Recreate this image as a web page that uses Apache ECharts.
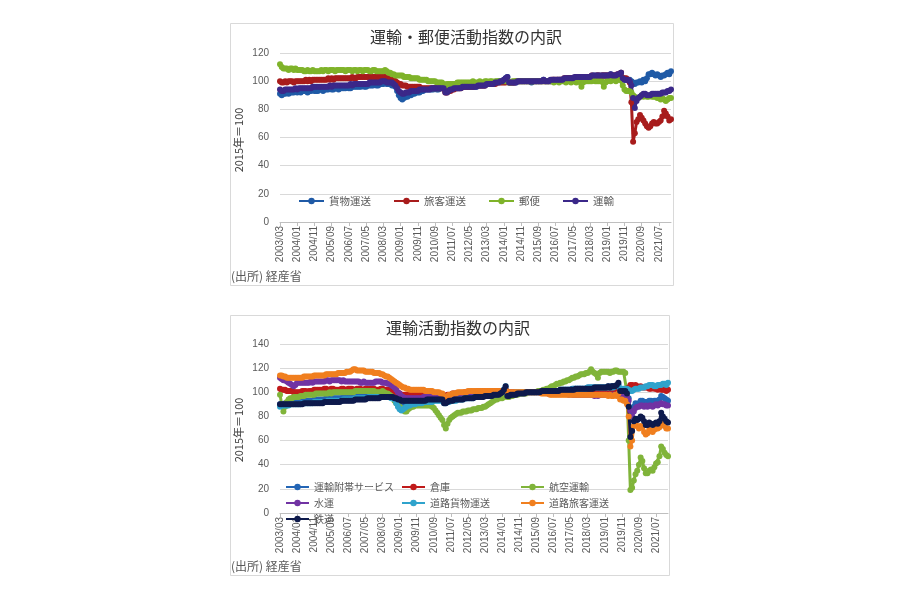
<!DOCTYPE html>
<html><head><meta charset="utf-8">
<script src="https://cdn.jsdelivr.net/npm/echarts@6/dist/echarts.min.js"></script>
<style>html,body{margin:0;padding:0;background:#fff}#c{width:900px;height:600px}</style>
</head><body><div id="c"></div><script>
// Months 2003/03 .. 2022/02
const categories = [];
for (let y = 2003, m = 3; y < 2022 || (y === 2022 && m <= 2); ) {
  categories.push(y + '/' + String(m).padStart(2, '0'));
  m++; if (m > 12) { m = 1; y++; }
}
const yTicksTop = [0, 20, 40, 60, 80, 100, 120];
const yTicksBottom = [0, 20, 40, 60, 80, 100, 120, 140];

// ---- Top chart: 運輸・郵便活動指数の内訳 ----
const freight = [
 91,90,91,91,92,91,92,92,92,93,
 92,93,92,93,93,93,92,93,93,94,93,93,
 93,94,94,93,94,94,94,95,94,94,95,95,
 94,95,95,95,95,96,95,95,96,96,96,96,
 96,96,97,96,96,97,97,97,97,98,97,97,
 98,98,98,99,98,98,98,97,97,96,93,90,
 88,87,88,89,89,90,90,91,91,92,92,92,
 93,93,94,94,94,94,94,94,95,94,94,95,
 95,95,93,93,94,94,95,95,95,95,95,96,
 96,96,96,96,96,97,96,96,96,97,97,97,
 97,97,98,98,98,98,99,99,99,100,100,100,
 101,102,103,99,99,99,99,99,100,100,100,100,
 100,100,100,100,99,100,100,100,100,100,100,101,
 100,100,100,100,100,101,100,101,101,101,101,101,
 101,102,102,102,102,102,102,103,103,103,103,103,
 103,103,103,103,104,103,104,104,103,104,104,104,
 104,104,105,104,104,104,104,105,106,102,101,101,
 101,101,100,99,98,99,99,100,99,101,100,102,
 105,105,106,105,104,105,104,103,104,104,105,106,
 105,107];
const passenger = [
 100,99,99,100,99,100,100,100,99,100,
 100,100,100,100,100,101,100,101,100,101,101,101,
 101,101,101,101,101,101,102,101,102,101,102,102,
 102,102,102,102,102,102,102,102,103,102,102,103,
 103,103,103,103,103,103,103,103,103,103,103,103,
 103,103,103,103,102,102,102,101,101,100,99,98,
 98,97,97,97,96,96,96,96,96,96,96,96,
 95,95,95,95,95,95,95,95,95,95,95,95,
 95,95,92,92,93,93,94,94,95,95,95,95,
 96,96,96,96,96,96,96,97,97,97,97,97,
 97,97,98,98,98,98,98,98,99,99,99,99,
 99,99,100,99,99,99,99,100,100,100,100,100,
 100,100,100,100,100,100,100,100,100,100,100,100,
 100,100,100,100,101,101,101,101,101,101,101,102,
 102,102,102,102,102,102,103,103,103,103,103,103,
 103,103,103,104,103,103,104,104,103,104,104,104,
 104,104,104,104,104,104,105,105,106,102,102,102,
 101,99,85,57,63,71,73,76,74,72,70,68,
 67,68,70,71,70,70,71,72,75,79,77,75,
 72,73];
const postal = [
 112,110,109,109,109,108,109,109,108,109,
 108,108,108,108,107,107,108,107,107,108,107,107,
 107,107,108,107,108,108,107,108,108,108,107,108,
 108,108,108,108,107,108,108,108,107,108,108,107,
 108,108,107,108,108,108,107,107,108,108,107,107,
 107,107,107,108,107,106,106,105,105,104,104,104,
 104,104,103,103,103,103,102,102,102,102,102,101,
 101,101,101,101,100,100,100,100,100,99,99,99,
 99,98,97,98,98,98,98,98,98,99,99,99,
 99,99,99,99,99,99,100,99,99,99,100,99,
 99,100,100,99,100,100,99,100,100,100,100,100,
 100,100,101,99,99,100,100,100,100,100,100,100,
 100,100,100,100,100,100,100,100,100,100,100,100,
 100,100,100,100,100,99,100,100,99,100,100,100,
 99,100,100,99,100,100,99,100,100,96,99,100,
 100,100,100,100,101,100,100,100,100,100,96,99,
 100,101,100,101,101,100,101,101,101,97,94,93,
 93,93,92,90,89,88,88,89,90,89,90,89,
 89,90,89,89,89,88,88,87,88,87,86,87,
 88,88];
const transport = [
 94,93,93,94,94,94,94,94,94,95,
 94,95,95,95,95,95,95,95,95,96,96,96,
 96,96,96,96,96,96,96,97,96,97,97,97,
 97,97,97,97,97,97,97,98,97,98,98,98,
 98,98,98,98,98,98,99,99,99,99,99,99,
 99,100,100,100,99,99,99,99,98,97,95,93,
 92,91,91,92,92,92,93,93,93,93,93,94,
 94,94,94,94,94,94,95,95,95,95,95,95,
 95,95,92,92,93,94,94,95,95,95,95,95,
 96,96,96,96,96,96,96,96,96,97,97,97,
 97,97,98,98,98,98,98,99,99,99,100,100,
 101,102,103,99,99,99,99,99,100,100,100,100,
 100,100,100,100,100,100,100,100,100,100,100,101,
 100,100,100,101,101,101,101,101,101,101,101,102,
 102,102,102,102,102,103,103,103,103,103,103,103,
 103,103,103,104,104,104,104,104,104,104,104,104,
 104,104,105,104,104,104,105,105,106,102,101,101,
 101,100,97,88,81,86,88,89,90,91,91,90,
 90,90,91,91,91,91,91,91,92,92,92,93,
 93,94];

// ---- Bottom chart: 運輸活動指数の内訳 ----
const ancillary = [
 90,90,90,91,91,91,91,91,92,92,
 92,92,92,92,93,93,93,93,93,93,94,94,
 94,94,94,94,94,95,95,95,95,95,95,95,
 95,95,95,96,96,96,96,96,96,96,96,97,
 97,97,97,97,97,97,97,97,97,98,98,98,
 98,98,98,98,98,98,97,97,96,95,93,91,
 89,88,88,89,89,90,90,91,91,92,92,92,
 93,93,93,93,93,93,94,94,94,94,94,94,
 94,94,92,92,93,93,94,94,94,94,95,95,
 95,95,95,95,96,96,96,96,96,96,97,97,
 97,97,97,98,98,98,98,98,99,99,99,99,
 100,101,103,99,99,99,99,99,99,100,100,100,
 100,100,100,100,100,100,100,100,100,100,100,100,
 100,101,101,101,101,101,101,101,101,101,102,102,
 102,102,102,102,102,103,103,103,103,103,103,103,
 103,103,104,104,104,104,104,104,104,104,104,104,
 104,104,105,104,105,105,105,105,106,103,102,102,
 102,101,95,86,83,88,91,90,91,93,93,92,
 92,92,93,93,92,93,93,92,94,97,96,95,
 94,93];
const warehouse = [
 103,102,102,102,101,101,101,101,100,100,
 100,100,100,101,101,101,100,101,101,101,102,102,
 102,102,102,102,103,103,102,102,103,103,102,102,
 102,102,103,103,102,102,103,103,103,102,102,103,
 103,103,102,102,103,103,102,103,103,103,102,102,
 102,103,103,102,102,102,102,102,101,101,100,99,
 99,98,98,98,98,98,98,98,99,99,99,99,
 99,99,99,99,99,99,99,99,99,98,98,98,
 98,98,97,97,98,98,98,99,99,99,99,99,
 99,99,100,100,100,100,100,100,100,100,101,101,
 101,101,101,101,101,101,101,101,101,101,101,101,
 101,101,102,100,100,100,100,100,100,100,100,100,
 100,100,100,100,100,100,100,100,100,100,100,100,
 100,100,100,99,99,99,99,99,99,99,99,99,
 99,99,99,99,99,99,99,99,99,99,99,100,
 100,100,100,100,100,100,100,100,100,101,101,101,
 101,101,101,101,101,101,101,101,102,101,101,101,
 102,102,104,106,106,105,106,105,104,105,104,104,
 104,104,103,103,104,103,103,102,103,102,102,102,
 101,102];
const air = [
 98,90,84,88,92,94,95,95,96,96,
 96,96,97,97,97,98,98,98,98,98,98,99,
 99,99,99,99,99,99,99,100,99,100,100,100,
 100,100,100,100,100,100,100,100,100,100,101,101,
 101,101,101,101,101,101,101,101,101,101,100,100,
 100,100,101,100,99,99,98,97,95,93,91,89,
 88,87,86,84,84,86,87,88,88,89,89,89,
 89,89,89,89,89,89,89,88,87,85,83,81,
 79,77,73,70,74,77,79,80,81,82,83,83,
 83,84,84,84,85,85,85,86,86,86,87,87,
 87,88,88,89,90,91,92,93,94,94,95,95,
 95,96,97,96,96,97,97,98,98,98,99,99,
 99,99,99,100,100,100,100,100,100,101,101,101,
 102,102,103,103,104,105,105,106,107,107,108,108,
 109,109,110,110,111,112,112,113,113,114,115,115,
 115,116,116,117,119,117,116,115,112,116,117,117,
 117,117,117,116,117,117,118,118,117,117,117,117,
 116,100,60,19,21,27,32,35,40,46,43,37,
 33,33,35,36,35,38,41,42,47,55,53,50,
 48,47];
const water = [
 112,111,110,110,109,108,107,106,105,106,
 108,108,108,108,108,108,108,108,109,108,109,109,
 109,109,109,109,109,110,110,109,110,110,110,110,
 110,110,109,110,109,109,109,109,109,109,109,109,
 109,108,108,109,108,108,108,108,108,108,109,109,
 109,109,108,108,108,107,107,106,105,104,102,100,
 99,97,96,95,95,95,95,95,95,95,95,95,
 95,95,96,96,96,96,96,96,96,96,96,96,
 96,96,94,94,95,95,95,95,95,95,96,96,
 96,96,96,96,97,97,97,97,97,97,98,98,
 98,98,98,99,99,99,99,100,100,100,100,100,
 100,101,101,100,100,100,100,100,100,100,100,100,
 100,100,100,100,100,100,100,100,100,100,100,100,
 100,100,100,99,99,99,99,99,99,99,99,99,
 99,99,99,98,99,98,98,98,98,98,98,98,
 98,98,98,98,98,98,97,98,97,98,98,98,
 98,98,98,98,98,98,98,98,98,97,97,97,
 97,96,93,85,80,84,87,88,88,89,89,88,
 89,88,89,89,88,89,90,89,90,91,90,90,
 89,89];
const roadFreight = [
 88,89,89,89,89,89,90,90,90,90,
 90,90,90,91,91,91,91,91,91,91,92,92,
 92,92,92,92,92,92,93,93,93,93,93,93,
 93,93,93,94,94,94,94,94,94,94,95,95,
 95,95,95,95,95,95,96,96,96,96,96,96,
 96,96,96,96,96,96,96,95,95,94,91,88,
 86,85,86,87,88,89,89,90,90,90,91,91,
 91,91,92,92,92,92,92,92,93,93,93,93,
 93,93,91,91,92,92,93,93,93,93,94,94,
 94,94,95,95,95,95,95,95,96,96,96,96,
 96,97,97,97,97,98,98,98,98,99,99,100,
 101,102,105,99,99,99,99,99,100,100,100,100,
 100,100,100,100,100,100,100,100,100,100,100,100,
 100,100,101,101,101,101,101,101,101,101,101,102,
 102,102,102,102,102,102,103,103,103,103,103,103,
 103,103,104,104,104,104,104,104,104,104,104,104,
 104,104,104,104,104,104,105,105,106,103,103,103,
 103,103,102,101,101,102,103,103,103,104,104,104,
 105,105,106,106,106,105,105,106,106,106,107,107,
 106,108];
const roadPassenger = [
 114,114,113,113,112,112,112,112,112,112,
 112,112,112,112,113,113,113,113,113,113,114,114,
 114,114,114,114,114,115,115,115,115,115,115,115,
 116,116,116,116,116,117,117,117,118,119,119,118,
 118,118,118,118,117,117,117,117,117,116,116,116,
 116,115,115,114,113,113,112,111,110,109,108,107,
 106,105,104,104,103,103,102,102,102,102,102,102,
 102,102,102,101,101,101,101,101,100,100,100,100,
 99,99,96,96,97,98,98,99,99,99,100,100,
 100,100,100,100,101,101,101,101,101,101,101,101,
 101,101,101,101,101,101,101,101,101,101,101,101,
 101,101,102,100,100,100,100,100,100,100,100,100,
 100,100,100,100,100,100,100,100,100,100,100,99,
 99,99,99,99,98,98,98,98,98,98,98,98,
 98,98,98,98,98,98,98,98,98,98,98,98,
 98,98,98,98,98,98,98,98,98,98,98,98,
 98,98,97,98,97,97,98,97,99,94,94,93,
 93,90,80,55,60,72,76,72,70,72,71,67,
 65,66,69,68,67,69,70,70,71,75,73,72,
 70,70];
const rail = [
 90,90,90,90,90,90,90,90,90,90,
 90,90,90,90,91,91,91,91,91,91,91,91,
 91,91,91,91,92,92,92,92,92,92,92,92,
 92,92,93,93,93,93,93,93,93,93,94,94,
 94,94,94,94,94,95,95,95,95,95,95,95,
 95,96,96,96,96,96,96,96,96,95,95,94,
 94,93,93,93,93,93,93,93,93,93,93,93,
 93,93,93,93,94,94,94,94,94,94,94,94,
 94,94,91,91,92,93,93,93,94,94,94,94,
 94,94,95,95,95,95,95,95,96,96,96,96,
 96,96,97,97,97,97,97,98,98,98,98,99,
 100,102,105,97,97,98,98,98,98,99,99,99,
 99,99,100,100,100,100,100,100,100,100,100,101,
 101,101,101,101,101,101,101,101,101,101,102,102,
 102,102,102,102,102,102,102,103,103,103,103,103,
 103,103,103,103,103,103,104,104,104,104,104,104,
 104,104,105,104,105,105,105,106,108,101,101,101,
 101,99,88,63,68,76,78,77,78,80,79,76,
 73,73,75,74,73,74,75,74,76,83,80,78,
 76,75];

const FF = "'Liberation Sans','Noto Sans CJK JP',sans-serif";
const CJK = "'Noto Sans CJK JP','Liberation Sans',sans-serif";

function line(name, data, color, idx) {
  return {
    name, type: 'line', data, xAxisIndex: idx, yAxisIndex: idx,
    showAllSymbol: true, symbol: 'circle', symbolSize: 6,
    lineStyle: { width: 3, color }, itemStyle: { color },
    emphasis: { disabled: true }, animation: false
  };
}
function xAx(idx) {
  return {
    type: 'category', gridIndex: idx, data: categories, boundaryGap: false,
    axisLine: { lineStyle: { color: '#bfbfbf', width: 1 } },
    axisTick: { show: true, interval: 9, length: 4, lineStyle: { color: '#bfbfbf' } },
    axisLabel: { interval: 9, rotate: 90, fontSize: 10, color: '#595959', margin: 4, fontFamily: FF },
    splitLine: { show: false }
  };
}
function yAx(idx, ticks) {
  return {
    type: 'value', gridIndex: idx, min: ticks[0], max: ticks[ticks.length - 1],
    interval: ticks[1] - ticks[0],
    axisLine: { show: false }, axisTick: { show: false },
    splitLine: { lineStyle: { color: '#d9d9d9', width: 1 } },
    axisLabel: { fontSize: 10, color: '#595959', margin: 11, fontFamily: FF }
  };
}
const legTop = { fontSize: 10.5, color: '#595959', fontFamily: CJK, lineHeight: 14 };
const legBot = { fontSize: 10, color: '#595959', fontFamily: CJK, lineHeight: 14 };

const chart = echarts.init(document.getElementById('c'), null, { renderer: 'canvas' });
chart.setOption({
  backgroundColor: '#ffffff',
  animation: false,
  textStyle: { fontFamily: CJK },
  grid: [
    { left: 280, right: 229, top: 53, height: 169, outerBoundsMode: 'none' },
    { left: 280, right: 232, top: 344, height: 169, outerBoundsMode: 'none' }
  ],
  xAxis: [xAx(0), xAx(1)],
  yAxis: [yAx(0, yTicksTop), yAx(1, yTicksBottom)],
  legend: [
    { orient: 'horizontal', left: 293, top: 189, itemWidth: 25, itemHeight: 8, itemGap: 22,
      textStyle: legTop, data: ['貨物運送', '旅客運送', '郵便', '運輸'] },
    { orient: 'vertical', left: 280, top: 475, itemWidth: 23, itemHeight: 8, itemGap: 2,
      textStyle: legBot, data: ['運輸附帯サービス', '水運', '鉄道'] },
    { orient: 'vertical', left: 396, top: 475, itemWidth: 23, itemHeight: 8, itemGap: 2,
      textStyle: legBot, data: ['倉庫', '道路貨物運送'] },
    { orient: 'vertical', left: 515, top: 475, itemWidth: 23, itemHeight: 8, itemGap: 2,
      textStyle: legBot, data: ['航空運輸', '道路旅客運送'] }
  ],
  series: [
    line('貨物運送', freight, '#1f5aa6', 0),
    line('旅客運送', passenger, '#a81c1c', 0),
    line('郵便', postal, '#7fb32a', 0),
    line('運輸', transport, '#3b2889', 0),
    line('運輸附帯サービス', ancillary, '#2365b5', 1),
    line('倉庫', warehouse, '#c01a1a', 1),
    line('航空運輸', air, '#80b43a', 1),
    line('水運', water, '#7133a3', 1),
    line('道路貨物運送', roadFreight, '#2fa3cc', 1),
    line('道路旅客運送', roadPassenger, '#f07f1f', 1),
    line('鉄道', rail, '#0e1a4c', 1)
  ],
  graphic: [
    { type: 'rect', shape: { x: 230.5, y: 23.5, width: 443, height: 262 }, style: { fill: 'none', stroke: '#d9d9d9', lineWidth: 1 }, z: 0 },
    { type: 'rect', shape: { x: 230.5, y: 315.5, width: 439, height: 260 }, style: { fill: 'none', stroke: '#d9d9d9', lineWidth: 1 }, z: 0 },
    { type: 'text', x: 466, y: 37, style: { text: '運輸・郵便活動指数の内訳', align: 'center', verticalAlign: 'middle', font: "16px " + CJK, fill: '#333333' } },
    { type: 'text', x: 458, y: 328, style: { text: '運輸活動指数の内訳', align: 'center', verticalAlign: 'middle', font: "16px " + CJK, fill: '#333333' } },
    { type: 'text', x: 239, y: 140, rotation: Math.PI / 2, style: { text: '2015年＝100', align: 'center', verticalAlign: 'middle', font: "11px " + CJK, fill: '#404040' } },
    { type: 'text', x: 239, y: 430, rotation: Math.PI / 2, style: { text: '2015年＝100', align: 'center', verticalAlign: 'middle', font: "11px " + CJK, fill: '#404040' } },
    { type: 'text', x: 231, y: 276, style: { text: '(出所) 経産省', align: 'left', verticalAlign: 'middle', font: "12px " + CJK, fill: '#595959' } },
    { type: 'text', x: 231, y: 566, style: { text: '(出所) 経産省', align: 'left', verticalAlign: 'middle', font: "12px " + CJK, fill: '#595959' } }
  ]
});
</script></body></html>
